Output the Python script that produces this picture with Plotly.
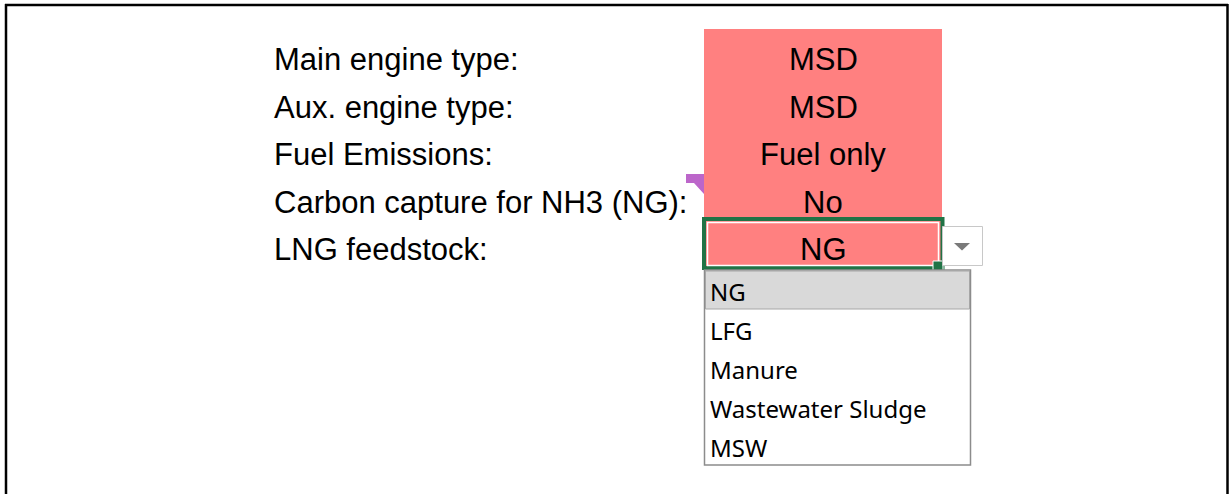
import plotly.graph_objects as go

# ---- data ----
labels = ["Main engine type:", "Aux. engine type:", "Fuel Emissions:",
          "Carbon capture for NH3 (NG):", "LNG feedstock:"]
values = ["MSD", "MSD", "Fuel only", "No", "NG"]
options = ["NG", "LFG", "Manure", "Wastewater Sludge", "MSW"]
selected_option = "NG"

W, H = 1229, 494
PINK = "#FF8080"
GREEN = "#217346"

row_y0, row_step = 59, 47.5
opt_y0, opt_step = 292, 39

fig = go.Figure()
shapes = []
ann = []

# outer frame
shapes.append(dict(type="line", x0=6, x1=6, y0=4, y1=H, line=dict(color="black", width=2.5)))
shapes.append(dict(type="line", x0=5, x1=1228, y0=5, y1=5, line=dict(color="black", width=2.5)))
shapes.append(dict(type="line", x0=1227.5, x1=1227.5, y0=4, y1=H, line=dict(color="black", width=2.5)))

# comment indicator
shapes.append(dict(type="path", path="M686,174 L704,174 L704,194 L694,183 L686,183 Z",
                   fillcolor="#BC66CA", line=dict(width=0)))

# pink value cells
shapes.append(dict(type="rect", x0=704, x1=942, y0=29, y1=268, fillcolor=PINK, line=dict(width=0)))

# selected cell border
shapes.append(dict(type="rect", x0=704, x1=942.5, y0=219, y1=268, fillcolor="rgba(0,0,0,0)",
                   line=dict(color=GREEN, width=4)))
shapes.append(dict(type="rect", x0=707.5, x1=938.5, y0=222.5, y1=265.5, fillcolor="rgba(0,0,0,0)",
                   line=dict(color="white", width=1.5)))
# fill handle
shapes.append(dict(type="rect", x0=933, x1=943, y0=261, y1=271, fillcolor=GREEN,
                   line=dict(color="white", width=1)))

# dropdown button
shapes.append(dict(type="rect", x0=942.5, x1=982.5, y0=226.5, y1=265.5, fillcolor="white",
                   line=dict(color="#C8C8C8", width=1)))
shapes.append(dict(type="path", path="M954,243 L970,243 L962,250.5 Z", fillcolor="#7A7A7A",
                   line=dict(width=0)))

# dropdown list
n_opt = len(options)
list_top = 270
list_bot = opt_y0 + (n_opt - 1) * opt_step + 17
shapes.append(dict(type="rect", x0=704.5, x1=970.5, y0=list_top, y1=list_bot, fillcolor="white",
                   line=dict(color="#8C8C8C", width=1.5)))
sel_i = options.index(selected_option)
shapes.append(dict(type="rect", x0=705.5, x1=969.5,
                   y0=list_top + 1 + sel_i * opt_step, y1=list_top + 1 + (sel_i + 1) * opt_step - 1,
                   fillcolor="#D9D9D9", line=dict(color="#A6A6A6", width=1)))

for i, (lab, val) in enumerate(zip(labels, values)):
    y = row_y0 + i * row_step
    ann.append(dict(x=272, y=y + 0.5, text=lab, xanchor="left", yanchor="middle", showarrow=False,
                    font=dict(family="Liberation Sans, Arial", size=31, color="black")))
    ann.append(dict(x=823, y=y + 0.5, text=val, xanchor="center", yanchor="middle", showarrow=False,
                    font=dict(family="Liberation Sans, Arial", size=31, color="black")))

for i, opt in enumerate(options):
    y = opt_y0 + i * opt_step
    ann.append(dict(x=707.5, y=y - 1, text=opt, xanchor="left", yanchor="middle", showarrow=False,
                    font=dict(family="Noto Sans", size=24, color="black")))

fig.update_layout(
    width=W, height=H, autosize=False,
    margin=dict(l=0, r=0, t=0, b=0, pad=0),
    paper_bgcolor="white", plot_bgcolor="white",
    xaxis=dict(range=[0, W], visible=False, fixedrange=True),
    yaxis=dict(range=[H, 0], visible=False, fixedrange=True),
    shapes=shapes, annotations=ann, showlegend=False,
)
fig.write_html("out.html", config={"displayModeBar": False},
               post_script="document.body.style.margin='0';")
